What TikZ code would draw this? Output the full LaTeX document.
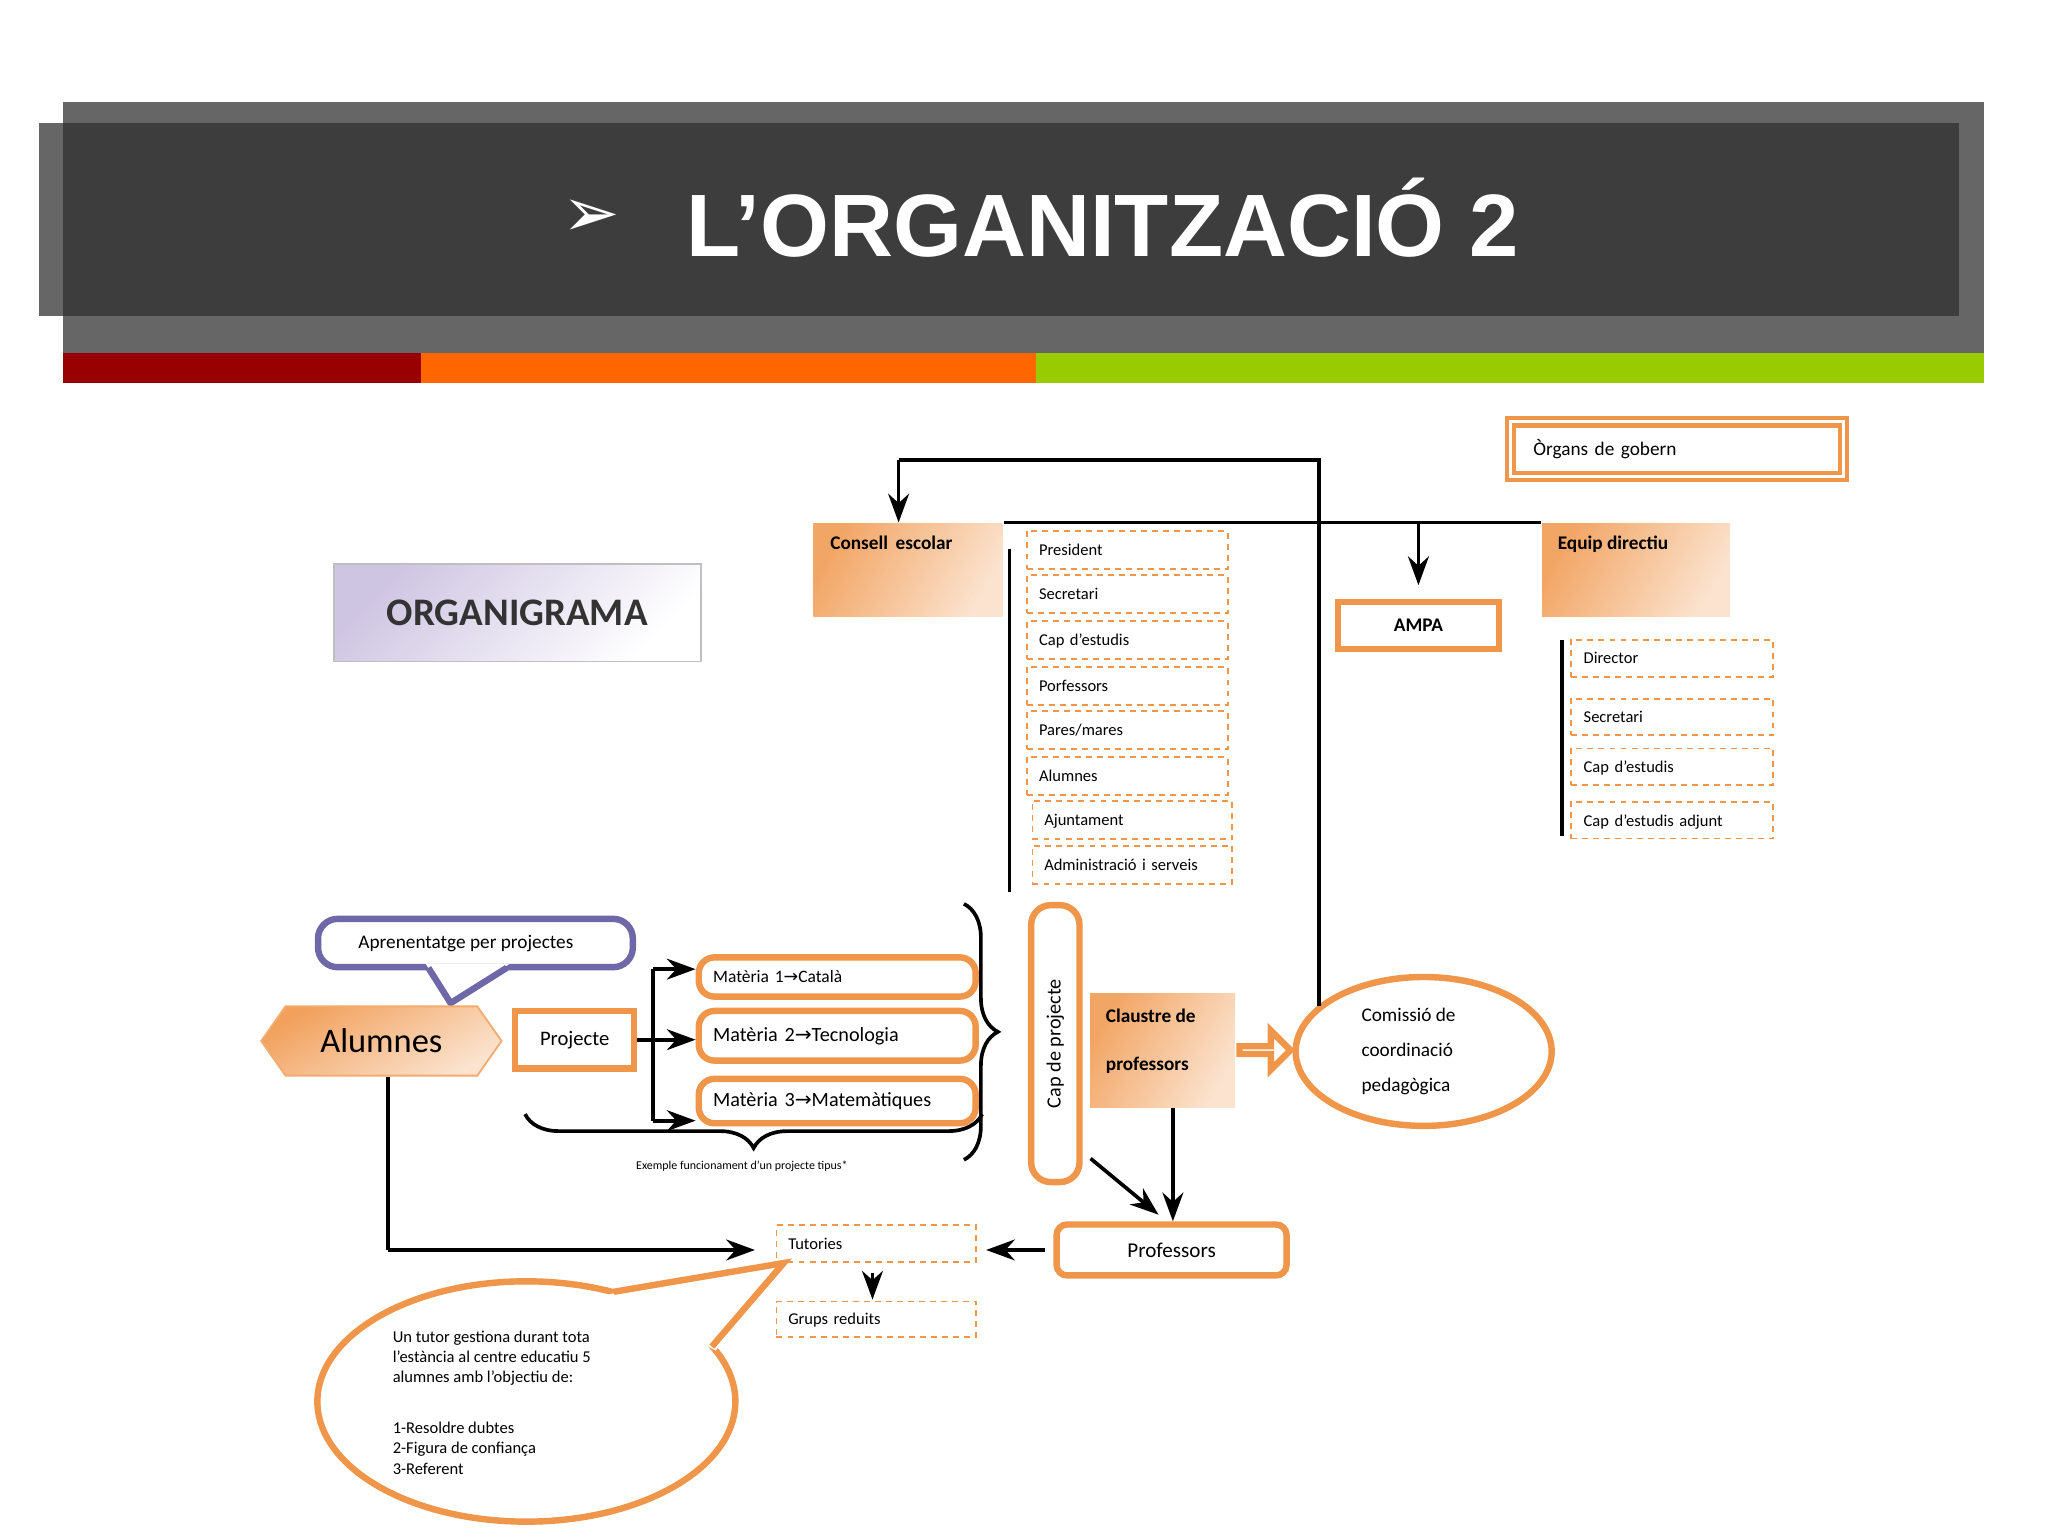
\documentclass[tikz,border=0pt]{standalone}
\usepackage{fontspec}
\setmainfont{Carlito}
\newfontfamily\titlefont{Liberation Sans}
\newfontfamily\symfont{DejaVu Sans}
\usetikzlibrary{shapes.symbols,shapes.arrows,shapes.geometric,decorations.pathreplacing,arrows.meta}
\definecolor{og}{HTML}{F0964A}
\definecolor{ogl}{HTML}{FBE3CF}
\definecolor{lav}{HTML}{C9BEDF}
\definecolor{sred}{HTML}{990000}
\definecolor{sorange}{HTML}{FF6600}
\definecolor{sgreen}{HTML}{99CC00}
\definecolor{purp}{HTML}{6E67A8}
\tikzset{
  sz/.style 2 args={minimum width=#1*0.1mm, minimum height=#2*0.1mm, inner sep=0pt},
  fs/.style={font=\fontsize{#1}{#1}\selectfont},
  obox/.style={draw=og, line width=1.4pt, fill=white},
  grad/.style={draw=none, left color=og!85, right color=ogl, shading angle=60},
  dbox/.style={draw=og, dash pattern=on 1.3pt off 1.1pt, line width=0.4pt, fill=white, fs=3.6, text depth=0pt},
  ln/.style={line width=0.8pt, black},
  arr/.style={ln, -{Stealth[length=2.2mm,width=1.6mm]}},
}
\begin{document}
\begin{tikzpicture}[x=0.1mm,y=-0.1mm]
\useasboundingbox (0,0) rectangle (1568,1176);
\fill[white] (0,0) rectangle (1568,1176);
% title band
\fill[black!60] (48,78) rectangle (1519,270);
\fill[black!60] (30,94) rectangle (48,242);
\fill[black!76] (48,94) rectangle (1500,242);
\fill[sred] (48,270) rectangle (322,293);
\fill[sorange] (322,270) rectangle (793,293);
\fill[sgreen] (793,270) rectangle (1519,293);
\node[text=white, anchor=west, inner sep=0pt] (titlearr) at (430,167) {\symfont\fontsize{15}{15}\selectfont ➢};
\node[text=white, anchor=west, inner sep=0pt] (title) at (525,167) {\titlefont\bfseries\fontsize{19.3}{19.3}\selectfont L’ORGANITZACIÓ 2};

% ORGANIGRAMA
\node[sz={281}{75}, draw=black!25, left color=lav!90, right color=white, shading angle=45, font=\bfseries\fontsize{8.5}{8.5}\selectfont, text=black!80] (org) at (396,469) {ORGANIGRAMA};

% Organs de gobern
\node[sz={255}{42}, draw=og, line width=0.9pt, double=white, double distance=0.7pt, fs=4.2, text width=22mm, align=left] (organs) at (1284,344) {Òrgans de gobern};

% Consell escolar
\node[sz={145}{71}, grad, anchor=north west] (consell) at (622,400) {};
\node[anchor=north west, font=\bfseries\fontsize{4.2}{4.2}\selectfont, inner sep=0pt] at (635,410) {Consell\, escolar};
% Equip directiu
\node[sz={144}{71}, grad, anchor=north west] (equip) at (1180,400) {};
\node[anchor=north west, font=\bfseries\fontsize{4.2}{4.2}\selectfont, inner sep=0pt] at (1192,410) {Equip directiu};
% AMPA
\node[sz={123}{36}, obox, font=\bfseries\fontsize{4.2}{4.2}\selectfont] (ampa) at (1086,479) {AMPA};

% consell list
\foreach \y/\t [count=\i] in {421/President,455/Secretari,490/Cap d'estudis,525/Porfessors,559/{Pares/mares},594/Alumnes}
  \node[dbox, sz={154}{29}, text width=13.5mm, align=left] (c\i) at (863,\y) {\t};
\node[dbox, sz={153}{29}, text width=13.5mm, align=left] (c7) at (867,628) {Ajuntament};
\node[dbox, sz={153}{29}, text width=13.5mm, align=left] (c8) at (867,662) {Administració i serveis};
\draw[ln] (773,420) -- (773,683);

% equip list
\foreach \y/\t [count=\i] in {504/Director,549/Secretari,587/Cap d'estudis,628/Cap d'estudis adjunt}
  \node[dbox, sz={155}{28}, text width=13.5mm, align=left] (e\i) at (1280,\y) {\t};
\draw[ln] (1196,490) -- (1196,640);

% top lines
\draw[ln] (consell.north east) -- (equip.north west);
\coordinate (ampaJ) at (ampa.north |- equip.north west);
\draw[arr] (ampaJ) -- ++(0,48);

% Aprenentatge callout
\node[sz={241}{37}, draw=purp, line width=1.4pt, fill=white, rounded corners=1.5mm] (aprbox) at (364,722) {};
\fill[white] (326,738) -- (345,768) -- (390,738) -- cycle;
\draw[draw=purp, line width=1.4pt, line join=round] (328,741) -- (345,768) -- (388,741);
\node[fs=4.2, anchor=west] (aprn) at (262,722) {Aprenentatge per projectes};

% Alumnes
\node[signal, signal to=west and east, signal pointer angle=110, sz={184}{53}, draw=og!80, left color=og!90, right color=ogl, shading angle=30, font=\fontsize{7.5}{7.5}\selectfont] (alum) at (292,797) {Alumnes};
% Projecte
\node[sz={91}{44}, obox, fs=4.5] (proj) at (440,796) {Projecte};
% Materies
\node[sz={212}{30}, obox, rounded corners=1.2mm, fs=3.8, text width=19mm, align=left] (m1) at (641,748) {Matèria 1{\symfont →}Català};
\node[sz={212}{38}, obox, rounded corners=1.2mm, fs=4.4, text width=19mm, align=left] (m2) at (641,793) {Matèria 2{\symfont →}Tecnologia};
\node[sz={212}{34}, obox, rounded corners=1.2mm, fs=4.4, text width=19mm, align=left] (m3) at (641,843) {Matèria 3{\symfont →}Matemàtiques};
\coordinate (split) at (500,796);
\draw[ln] (proj.east) -- (split);
\draw[ln] (500,742) -- (500,858);
\draw[arr] (500,742) -- (m1.west |- 500,742);
\draw[arr] (split) -- (m2.west |- split);
\draw[arr] (500,858) -- (m3.west |- 500,858);

% braces
\draw[ln, line width=0.8pt, decorate, decoration={brace, amplitude=2.6mm, mirror}] (402,853) -- (752,853);
\node[font=\fontsize{2.6}{2.6}\selectfont] (ex) at (568,893) {Exemple funcionament d'un projecte tipus*};
\draw[ln, line width=0.8pt, decorate, decoration={brace, amplitude=2.6mm}] (738,692) -- (738,888);

% Cap de projecte
\node[sz={37}{212}, obox, rounded corners=1.5mm] (cap) at (808,799) {};
\node[rotate=90, fs=4.4] at (cap.center) {Cap de projecte};
% Claustre
\node[sz={111}{87}, grad, anchor=north west] (claus) at (834,760) {};
\node[anchor=north west, font=\bfseries\fontsize{4.2}{4.2}\selectfont, inner sep=0pt] at (846,772) {Claustre de};
\node[anchor=north west, font=\bfseries\fontsize{4.2}{4.2}\selectfont, inner sep=0pt] at (846,809) {professors};
% hollow arrow
\node[single arrow, draw=og, line width=1.4pt, fill=white, minimum height=3.9mm, minimum width=3mm, single arrow head extend=1mm, inner sep=0pt] (harr) at (967,804) {};
% Comissio
\node[ellipse, draw=og, line width=1.4pt, sz={196}{114}] (com) at (1090,805) {};
\node[anchor=west, fs=4.2, align=left] at (1030,805) {Comissió de\\[1.2mm]coordinació\\[1.2mm]pedagògica};
\draw[ln] (1010,770) -- (1010,352) -- (688,352);
\draw[arr] (688,352) -- (consell.north -| 688,352);

% Professors
\node[sz={176}{39}, obox, rounded corners=0.8mm, fs=4.6] (prof) at (897,957) {Professors};
\draw[arr] (claus.south -| 898,855) -- (prof.north -| 898,855);
\draw[arr] (835,887) -- (887,930);
% Tutories
\node[dbox, sz={153}{28}, text width=13.5mm, align=left] (tut) at (671,952) {Tutories};
\node[dbox, sz={153}{27}, text width=13.5mm, align=left] (grups) at (671,1010) {Grups reduits};
\draw[arr] (800,957) -- (755,957);
\draw[arr] (668,975) -- (668,995);
\draw[ln] (alum.south -| 297,824) -- (297,957);
\draw[arr] (297,957) -- (578,957);

% callout ellipse
\node[ellipse, draw=og, line width=1.4pt, sz={320}{184}, fill=white] (bubble) at (403,1073) {};
\fill[white] (466,991) -- (600,967) -- (548,1034) -- cycle;
\draw[og, line width=1.4pt] (470,989) -- (600,967) -- (545,1031);
\node[anchor=north west, fs=3.6, align=left, inner sep=0pt] (btext) at (300,1018) {Un tutor gestiona durant tota\\[0.3mm]l'estància al centre educatiu 5\\[0.3mm]alumnes amb l'objectiu de:\\[2.6mm]1-Resoldre dubtes\\[0.3mm]2-Figura de confiança\\[0.3mm]3-Referent};
\end{tikzpicture}
\end{document}
